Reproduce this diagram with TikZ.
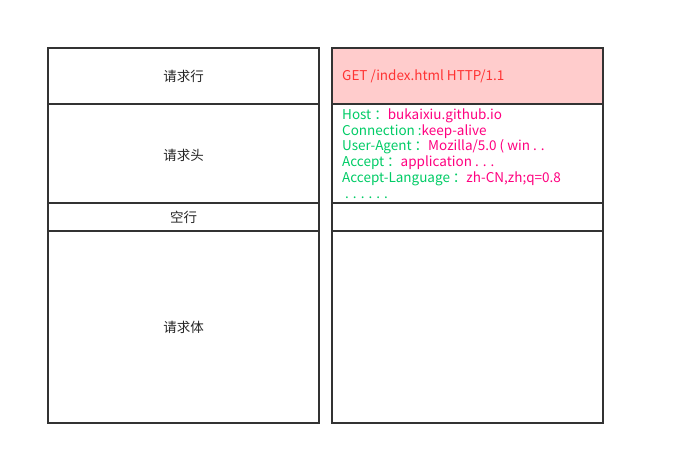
\documentclass[tikz,border=0pt]{standalone}
\usepackage{fontspec}
\setmainfont{Noto Sans CJK SC}
\definecolor{gr}{HTML}{00CC66}
\definecolor{pk}{HTML}{FF0080}
\definecolor{rd}{HTML}{FF3333}
\definecolor{rf}{HTML}{FFCCCC}
\definecolor{ln}{HTML}{333333}
\begin{document}
\begin{tikzpicture}[x=1pt,y=-1pt,
  cell/.style={draw=ln,line width=1.8pt,fill=white},
  lbl/.style={font=\fontsize{13.5}{15}\selectfont,text=black!85,inner sep=0pt},
  txt/.style={font=\fontsize{13.5}{15}\selectfont,anchor=west,inner sep=0pt}]
\useasboundingbox (0,0) rectangle (677,455);
% left column
\draw[cell] (48,48) rectangle (319,104);
\draw[cell] (48,104) rectangle (319,203);
\draw[cell] (48,203) rectangle (319,231);
\draw[cell] (48,231) rectangle (319,423);
\node[lbl] (l1) at (183.5,76) {请求行};
\node[lbl] (l2) at (183.5,155) {请求头};
\node[lbl] (l3) at (183.5,217) {空行};
\node[lbl] (l4) at (183.5,327) {请求体};
% right column
\draw[cell,fill=rf] (332,48) rectangle (603,104);
\draw[cell] (332,104) rectangle (603,203);
\draw[cell] (332,203) rectangle (603,231);
\draw[cell] (332,231) rectangle (603,423);
\node[txt,text=rd] (r1) at (342,76) {GET /index.html HTTP/1.1};
\node[txt] (h1) at (342,115.5) {\textcolor{gr}{Host ：}\textcolor{pk}{bukaixiu.github.io}};
\node[txt] (h2) at (342,131.3) {\textcolor{gr}{Connection :}\textcolor{pk}{keep-alive}};
\node[txt] (h3) at (342,147.1) {\textcolor{gr}{User-Agent ：}\textcolor{pk}{Mozilla/5.0 ( win . .}};
\node[txt] (h4) at (342,162.9) {\textcolor{gr}{Accept ：}\textcolor{pk}{application . . .}};
\node[txt] (h5) at (342,178.7) {\textcolor{gr}{Accept-Language ：}\textcolor{pk}{zh-CN,zh;q=0.8}};
\node[txt,anchor=base west,text=gr] (h6) at (345,198) {. . . . . .};
\end{tikzpicture}
\end{document}
